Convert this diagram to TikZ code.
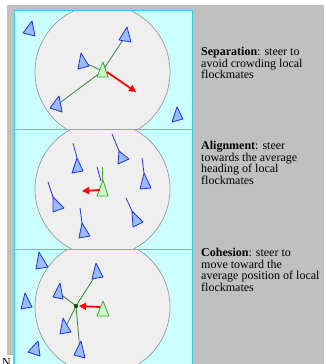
\documentclass[tikz,border=0pt]{standalone}
\usepackage{fontspec}
\setmainfont{Liberation Serif}
\usetikzlibrary{arrows.meta}
\definecolor{bggray}{HTML}{C0C0C0}
\definecolor{panelfill}{HTML}{CCFFFF}
\definecolor{panelline}{HTML}{33CCEE}
\definecolor{circfill}{HTML}{EFEFEF}
\definecolor{circline}{HTML}{999999}
\definecolor{boidfill}{HTML}{99BBFF}
\definecolor{boidline}{HTML}{2233DD}
\definecolor{gboidfill}{HTML}{CCFFCC}
\definecolor{gboidline}{HTML}{33AA33}
\definecolor{linkgreen}{HTML}{338833}
\definecolor{dotgreen}{HTML}{115511}
\tikzset{
  boid/.style={draw=boidline, fill=boidfill, line width=0.8pt, line join=round},
  gboid/.style={draw=gboidline, fill=gboidfill, line width=0.8pt, line join=round},
  heading/.style={draw=boidline, line width=0.8pt},
  gheading/.style={draw=gboidline, line width=0.8pt},
  link/.style={draw=linkgreen, line width=0.8pt},
  steer/.style={draw=red, line width=1.8pt, -{Triangle[length=7pt,width=7pt]}},
  panel/.style={draw=panelline, line width=1pt},
  neigh/.style={draw=circline, fill=circfill, line width=0.7pt},
  txt/.style={font=\fontsize{12}{11.7}\selectfont, align=left, inner sep=0pt, anchor=north west, text=black}
}
\begin{document}
\begin{tikzpicture}[x=1pt,y=-1pt]
\useasboundingbox (0,0) rectangle (324,364);
\clip (0,0) rectangle (324,364);
\fill[white] (0,0) rectangle (324,364);
\fill[bggray] (7,5) rectangle (324,364);
\fill[white] (0,355) rectangle (13,364);
% panels
\foreach \ya/\yb/\cy in {10/129/72, 129/249/189, 249/372/307} {
  \fill[panelfill] (14,\ya) rectangle (192,\yb);
  \begin{scope}
    \clip (14,\ya) rectangle (192,\yb);
    \draw[neigh] (102.5,\cy) circle[radius=67.5];
  \end{scope}
}
\draw[panel] (14,10) rectangle (192,129);
\draw[panel] (14,129) rectangle (192,249);
\draw[panel] (14,249) rectangle (192,372);

% ---------- Panel 1: separation ----------
\coordinate (g1) at (102.5,71);
\coordinate (s1b) at (125.5,36);
\coordinate (s1c) at (83,62);
\coordinate (s1d) at (57,105);
\coordinate (r1s) at (107,72);
\coordinate (r1e) at (136,92);
\draw[link] (g1) -- (s1b);
\draw[link] (g1) -- (s1c);
\draw[link] (g1) -- (s1d);
\draw[boid] (32,21) -- (23,33) -- (35,36) -- cycle;
\draw[boid] (127,27) -- (119,40) -- (131,42) -- cycle;
\draw[boid] (81,53) -- (78,69) -- (89,66) -- cycle;
\draw[boid] (59,96) -- (50,108) -- (62,112) -- cycle;
\draw[boid] (177,107) -- (172,122) -- (183,119) -- cycle;
\draw[gboid] (103,62) -- (97,77) -- (108,77) -- cycle;
\draw[steer] (r1s) -- (r1e);

% ---------- Panel 2: alignment ----------
\draw[heading] (73,143) -- (77,158);
\draw[boid] (77,158) -- (72,173) -- (83,171) -- cycle;
\draw[heading] (112,134) -- (119,151);
\draw[boid] (119,151) -- (118,164) -- (129,159) -- cycle;
\draw[heading] (142,158) -- (144,173);
\draw[boid] (144,173) -- (140,189) -- (151,188) -- cycle;
\draw[heading] (48,182) -- (53,197);
\draw[boid] (53,197) -- (53,212) -- (64,208) -- cycle;
\draw[heading] (126,198) -- (132,211);
\draw[boid] (132,211) -- (133,227) -- (143,222) -- cycle;
\draw[heading] (80,208) -- (82,223);
\draw[boid] (82,223) -- (79,238) -- (90,236) -- cycle;
\draw[heading] (97,167) -- (101,181);
\draw[gheading] (102.5,167) -- (102.5,181);
\draw[gboid] (103,180) -- (97,196) -- (108,196) -- cycle;
\coordinate (r2s) at (100,190);
\coordinate (r2e) at (82,191);
\draw[steer] (r2s) -- (r2e);

% ---------- Panel 3: cohesion ----------
\coordinate (cm) at (76,306);
\coordinate (c3a) at (97,273);
\coordinate (c3b) at (59,293);
\coordinate (c3c) at (65,328);
\coordinate (c3d) at (80,351);
\draw[link] (cm) -- (c3a);
\draw[link] (cm) -- (c3b);
\draw[link] (cm) -- (c3c);
\draw[link] (cm) -- (c3d);
\draw[boid] (39,252) -- (36,269) -- (48,267) -- cycle;
\draw[boid] (25,293) -- (21,309) -- (32,307) -- cycle;
\draw[boid] (38,341) -- (28,352) -- (40,356) -- cycle;
\draw[boid] (96,263) -- (92,279) -- (103,277) -- cycle;
\draw[boid] (60,283) -- (53,297) -- (63,299) -- cycle;
\draw[boid] (63,318) -- (60,334) -- (71,332) -- cycle;
\draw[boid] (81,341) -- (74,355) -- (85,358) -- cycle;
\draw[gboid] (103,301) -- (97,316) -- (109,316) -- cycle;
\fill[dotgreen] (cm) circle[radius=2.2];
\coordinate (r3s) at (100,307);
\coordinate (r3e) at (79,306);
\draw[steer] (r3s) -- (r3e);

% ---------- Texts ----------
\node[txt] (tsep) at (201,47) {\textbf{Separation}: steer to\\avoid crowding local\\flockmates};
\node[txt] (tali) at (201,141) {\textbf{Alignment}: steer\\towards the average\\heading of local\\flockmates};
\node[txt] (tcoh) at (201,248) {\textbf{Cohesion}: steer to\\move toward the\\average position of local\\flockmates};
\node[font=\fontsize{12}{12}\selectfont, anchor=base west, inner sep=0pt] (nn) at (2,366) {N};
\end{tikzpicture}
\end{document}
